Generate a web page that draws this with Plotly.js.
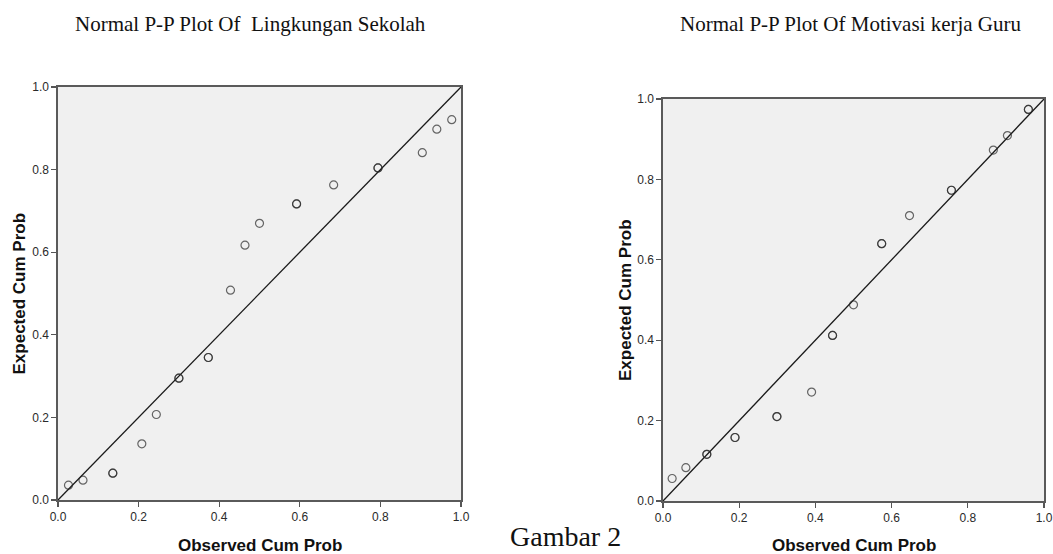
<!DOCTYPE html>
<html>
<head>
<meta charset="utf-8">
<script src="https://cdn.plot.ly/plotly-3.0.1.min.js"></script>
<style>html,body{margin:0;padding:0;background:#fff;}#chart{width:1053px;height:554px;}</style>
</head>
<body>
<div id="chart"></div>
<script>
// Left chart: Lingkungan Sekolah (repeated entries = overlapping cases)
var lingkunganObserved = [0.026,0.062,0.136,0.136,0.208,0.244,0.300,0.300,0.373,0.373,0.428,0.464,0.500,0.592,0.592,0.684,0.794,0.794,0.904,0.940,0.977];
var lingkunganExpected = [0.036,0.048,0.065,0.065,0.136,0.207,0.295,0.295,0.345,0.345,0.508,0.617,0.670,0.717,0.717,0.763,0.804,0.804,0.841,0.898,0.921];
// Right chart: Motivasi kerja Guru
var motivasiObserved = [0.024,0.060,0.115,0.115,0.189,0.189,0.299,0.299,0.390,0.445,0.445,0.500,0.574,0.574,0.647,0.757,0.757,0.867,0.904,0.959,0.959];
var motivasiExpected = [0.056,0.083,0.116,0.116,0.158,0.158,0.210,0.210,0.271,0.412,0.412,0.488,0.640,0.640,0.710,0.773,0.773,0.873,0.909,0.974,0.974];
// Reference diagonal
var refLine = [0, 1];
var tickValues = [0, 0.2, 0.4, 0.6, 0.8, 1.0];
var tickLabels = ["0.0", "0.2", "0.4", "0.6", "0.8", "1.0"];
var titleLeft = "Normal P-P Plot Of\u00a0 Lingkungan Sekolah";
var titleRight = "Normal P-P Plot Of Motivasi kerja Guru";
var xTitle = "Observed Cum Prob";
var yTitle = "Expected Cum Prob";
var caption = "Gambar 2";

var W = 1053, H = 554;
function px(x) { return x / W; }
function py(y) { return 1 - y / H; }

var markerStyle = {symbol: 'circle-open', size: 8, color: 'rgba(40,40,40,0.7)', line: {width: 1.2}};
var lineStyle = {color: '#1a1a1a', width: 1.3};

var traces = [
  {x: refLine, y: refLine, mode: 'lines', line: lineStyle, xaxis: 'x', yaxis: 'y', hoverinfo: 'skip'},
  {x: lingkunganObserved, y: lingkunganExpected, mode: 'markers', marker: markerStyle, xaxis: 'x', yaxis: 'y', cliponaxis: false},
  {x: refLine, y: refLine, mode: 'lines', line: lineStyle, xaxis: 'x2', yaxis: 'y2', hoverinfo: 'skip'},
  {x: motivasiObserved, y: motivasiExpected, mode: 'markers', marker: markerStyle, xaxis: 'x2', yaxis: 'y2', cliponaxis: false}
];

function axis(domain, anchor) {
  return {
    domain: domain, anchor: anchor, range: [0, 1], fixedrange: true,
    tickmode: 'array', tickvals: tickValues, ticktext: tickLabels,
    ticks: 'outside', ticklen: 5, tickwidth: 1.3, tickcolor: '#555',
    showline: true, linecolor: '#5a5a5a', linewidth: 1.6, mirror: true,
    showgrid: false, zeroline: false,
    tickfont: {family: 'Liberation Sans, Arial, sans-serif', size: 12, color: '#2a2a2a'}
  };
}

var ann = function (text, x, y, opts) {
  return Object.assign({text: text, x: px(x), y: py(y), xref: 'paper', yref: 'paper', showarrow: false, xanchor: 'center', yanchor: 'middle'}, opts || {});
};
var serif = {family: 'Liberation Serif, Times New Roman, serif', size: 21, color: '#111'};
var boldSans = {family: 'Liberation Sans, Arial, sans-serif', size: 17, color: '#111', weight: 'bold'};

var layout = {
  width: W, height: H, autosize: false,
  margin: {l: 0, r: 0, t: 0, b: 0, pad: 0},
  paper_bgcolor: '#ffffff', plot_bgcolor: '#f0f0f0',
  showlegend: false,
  xaxis: axis([px(58), px(461)], 'y'),
  yaxis: axis([1 - 500 / H, 1 - 87 / H], 'x'),
  xaxis2: axis([px(663), px(1044)], 'y2'),
  yaxis2: axis([1 - 501 / H, 1 - 99 / H], 'x2'),
  annotations: [
    ann(titleLeft, 250, 24, {font: serif}),
    ann(titleRight, 851, 24, {font: serif}),
    ann('<b>' + xTitle + '</b>', 259.5, 545, {font: boldSans}),
    ann('<b>' + yTitle + '</b>', 19, 293.5, {font: boldSans, textangle: -90}),
    ann('<b>' + xTitle + '</b>', 853.5, 545, {font: boldSans}),
    ann('<b>' + yTitle + '</b>', 625, 300, {font: boldSans, textangle: -90}),
    ann(caption, 565, 554, {font: {family: 'Liberation Serif, Times New Roman, serif', size: 28, color: '#111'}, yanchor: 'bottom'})
  ]
};

Plotly.newPlot('chart', traces, layout, {staticPlot: true, displayModeBar: false});
</script>
</body>
</html>
